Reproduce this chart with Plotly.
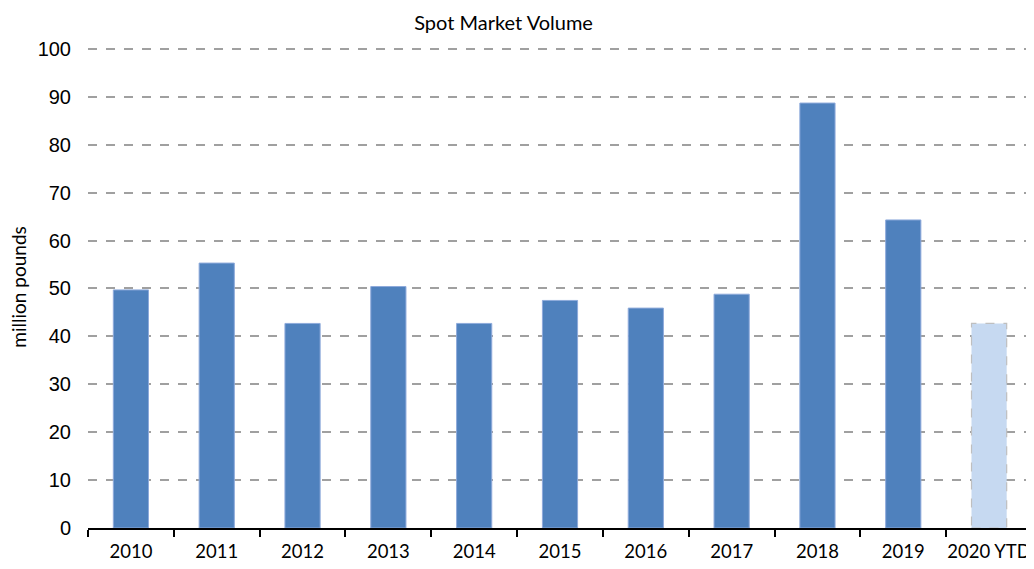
import plotly.graph_objects as go

categories = ["2010", "2011", "2012", "2013", "2014", "2015", "2016", "2017", "2018", "2019", "2020 YTD"]
values = [49.7, 55.3, 42.7, 50.4, 42.7, 47.5, 45.9, 48.8, 88.7, 64.3, 42.7]
n_full = 10  # full-year bars; last one is YTD

BAR_W = 0.41

fig = go.Figure()
fig.add_trace(go.Bar(
    x=categories[:n_full], y=values[:n_full], width=BAR_W,
    marker=dict(color="#4f81bd", line=dict(color="#8eaadb", width=1)),
))
fig.add_trace(go.Bar(
    x=categories[n_full:], y=values[n_full:], width=BAR_W,
    marker=dict(color="#c6d9f1", line=dict(width=0)),
))
# dashed outline of the YTD bar
idx = n_full
fig.add_shape(type="rect", xref="x", yref="y",
              x0=idx - BAR_W / 2, x1=idx + BAR_W / 2, y0=0, y1=values[idx],
              line=dict(color="#bfbfbf", width=1.2, dash="dash"), layer="above")

# page body has an 8px margin, so the figure is sized to fit the window
fig.update_layout(
    width=1026, height=561,
    margin=dict(l=80, r=2, t=39, b=41, autoexpand=False),
    paper_bgcolor="white", plot_bgcolor="white",
    showlegend=False, barmode="overlay",
    title=dict(text="Spot Market Volume", x=0.483, xanchor="center", y=0.974, yanchor="middle",
               font=dict(family="Lato", size=20, color="#000")),
    font=dict(family="Lato", color="#000"),
)
fig.add_annotation(text="million pounds", xref="paper", yref="paper", x=-0.074, y=0.5,
                   textangle=-90, showarrow=False, xanchor="center", yanchor="middle",
                   font=dict(family="Lato", size=19, color="#000"))
fig.update_xaxes(
    type="category", categoryorder="array", categoryarray=categories,
    range=[-0.5, len(categories) - 0.5],
    showline=True, linecolor="#000", linewidth=1.5,
    ticks="outside", tickson="boundaries", ticklen=7, tickcolor="#000", tickwidth=1.5,
    tickangle=0, automargin=False, ticklabelstandoff=6,
    tickfont=dict(family="Lato", size=18.5, color="#000"),
    showgrid=False,
)
fig.update_yaxes(
    range=[0, 100.4], dtick=10, tick0=0,
    showgrid=True, gridcolor="#a0a0a0", griddash="dash", gridwidth=1.5,
    showline=False, zeroline=False, automargin=False,
    tickfont=dict(family="Liberation Sans", size=20, color="#000"),
    ticklabelstandoff=16,
)
fig.write_html("out.html")
